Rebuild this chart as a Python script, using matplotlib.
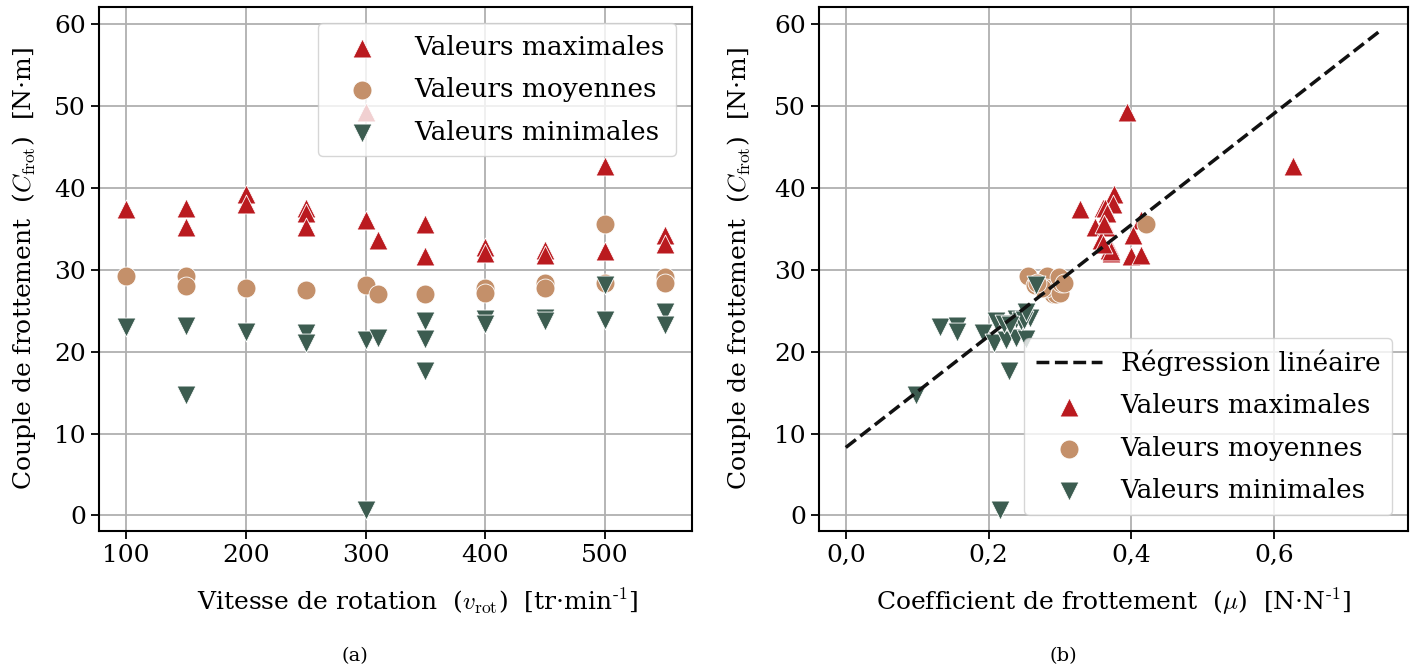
import numpy as np
import matplotlib
matplotlib.use("Agg")
import matplotlib.pyplot as plt

# ---------------- data ----------------
# (a) couple vs vitesse de rotation
v_max = [100, 150, 150, 200, 200, 250, 250, 250, 300, 300, 310, 350, 350, 400, 400, 450, 450, 500, 500, 550, 550]
C_max = [37.4, 37.6, 35.2, 39.2, 38.0, 37.6, 37.0, 35.2, 36.1, 49.3, 33.7, 35.6, 31.7, 32.8, 32.1, 32.4, 31.8, 42.7, 32.3, 34.2, 33.1]
mu_max = [0.328, 0.360, 0.349, 0.375, 0.374, 0.363, 0.366, 0.365, 0.413, 0.394, 0.358, 0.362, 0.400, 0.370, 0.371, 0.368, 0.414, 0.627, 0.372, 0.403, 0.360]

v_moy = [100, 150, 150, 200, 250, 300, 310, 350, 400, 400, 450, 450, 500, 500, 550, 550]
C_moy = [29.3, 29.2, 28.0, 27.8, 27.5, 28.1, 27.0, 27.1, 27.8, 27.2, 28.4, 27.8, 35.6, 28.4, 29.1, 28.4]
mu_moy = [0.255, 0.282, 0.270, 0.290, 0.285, 0.265, 0.290, 0.295, 0.280, 0.300, 0.302, 0.275, 0.421, 0.268, 0.298, 0.305]

v_min = [100, 150, 150, 200, 250, 250, 300, 300, 310, 350, 350, 350, 400, 400, 450, 450, 500, 500, 550, 550]
C_min = [23.0, 23.1, 14.7, 22.4, 22.3, 21.1, 21.4, 0.7, 21.7, 23.7, 21.5, 17.7, 24.0, 23.4, 24.1, 23.7, 28.2, 23.9, 24.9, 23.3]
mu_min = [0.132, 0.156, 0.098, 0.156, 0.192, 0.207, 0.225, 0.216, 0.239, 0.211, 0.253, 0.229, 0.239, 0.221, 0.258, 0.245, 0.267, 0.250, 0.253, 0.230]

# regression line
reg_mu = [0.0, 0.75]
reg_C = [8.3, 59.3]

x_ticks_a = [100, 200, 300, 400, 500]
x_ticks_b = [0.0, 0.2, 0.4, 0.6]
x_ticklabels_b = ["0,0", "0,2", "0,4", "0,6"]
y_ticks = [0, 10, 20, 30, 40, 50, 60]

labels = ["Valeurs maximales", "Valeurs moyennes", "Valeurs minimales"]
reg_label = "Régression linéaire"

# ---------------- style ----------------
c_max = "#BA1A1F"
c_moy = "#C4906A"
c_min = "#3C5C50"

plt.rcParams["font.family"] = ["DejaVu Serif"]
plt.rcParams["mathtext.fontset"] = "cm"
FS = 18
FS_LEG = 19

fig = plt.figure(figsize=(14.16, 6.70), dpi=100)
W, H = 1416, 670
axA = fig.add_axes([99 / W, 1 - 531 / H, 593 / W, 524 / H])
axB = fig.add_axes([819 / W, 1 - 531 / H, 589 / W, 524 / H])

sc_kw = dict(s=185, edgecolors="white", linewidths=0.6, zorder=3)

def style(ax):
    ax.grid(True, color="#b0b0b0", linewidth=1.3, zorder=0)
    ax.set_axisbelow(True)
    for sp in ax.spines.values():
        sp.set_linewidth(1.5)
    ax.tick_params(labelsize=FS, width=1.3, length=6)
    ax.set_yticks(y_ticks)
    ax.set_ylim(-1.9, 62.1)
    ax.set_ylabel(r"Couple de frottement  ($C_{\mathrm{frot}}$)  [N·m]", fontsize=FS)

leg_kw = dict(fontsize=FS_LEG, handlelength=2.5, handletextpad=0.7,
              borderaxespad=0.6, labelspacing=0.66, borderpad=0.45)

# (a)
axA.scatter(v_max, C_max, marker="^", color=c_max, label=labels[0], **sc_kw)
axA.scatter(v_moy, C_moy, marker="o", color=c_moy, label=labels[1], **sc_kw)
axA.scatter(v_min, C_min, marker="v", color=c_min, label=labels[2], **sc_kw)
style(axA)
axA.set_xticks(x_ticks_a)
axA.set_xlim(77.5, 572.5)
axA.set_xlabel(r"Vitesse de rotation  ($v_{\mathrm{rot}}$)  [tr·min$^{\text{-1}}$]", fontsize=FS)
axA.xaxis.set_label_coords(0.537, -0.105)
axA.yaxis.set_label_coords(-0.103, 0.5)
axA.legend(loc="upper right", **leg_kw)

# (b)
axB.plot(reg_mu, reg_C, "--", color="#111111", linewidth=2.5, label=reg_label, zorder=4)
axB.scatter(mu_max, C_max, marker="^", color=c_max, label=labels[0], **sc_kw)
axB.scatter(mu_moy, C_moy, marker="o", color=c_moy, label=labels[1], **sc_kw)
axB.scatter(mu_min, C_min, marker="v", color=c_min, label=labels[2], **sc_kw)
style(axB)
axB.set_xticks(x_ticks_b)
axB.set_xticklabels(x_ticklabels_b)
axB.set_xlim(-0.0375, 0.7875)
axB.set_xlabel(r"Coefficient de frottement  ($\mu$)  [N·N$^{\text{-1}}$]", fontsize=FS)
axB.xaxis.set_label_coords(0.5, -0.105)
axB.yaxis.set_label_coords(-0.112, 0.5)
axB.legend(loc="lower right", **leg_kw)

fig.text(355 / W, 1 - 656 / H, "(a)", fontsize=14, ha="center", va="center")
fig.text(1063 / W, 1 - 656 / H, "(b)", fontsize=14, ha="center", va="center")

fig.savefig("out.png", dpi=100)
